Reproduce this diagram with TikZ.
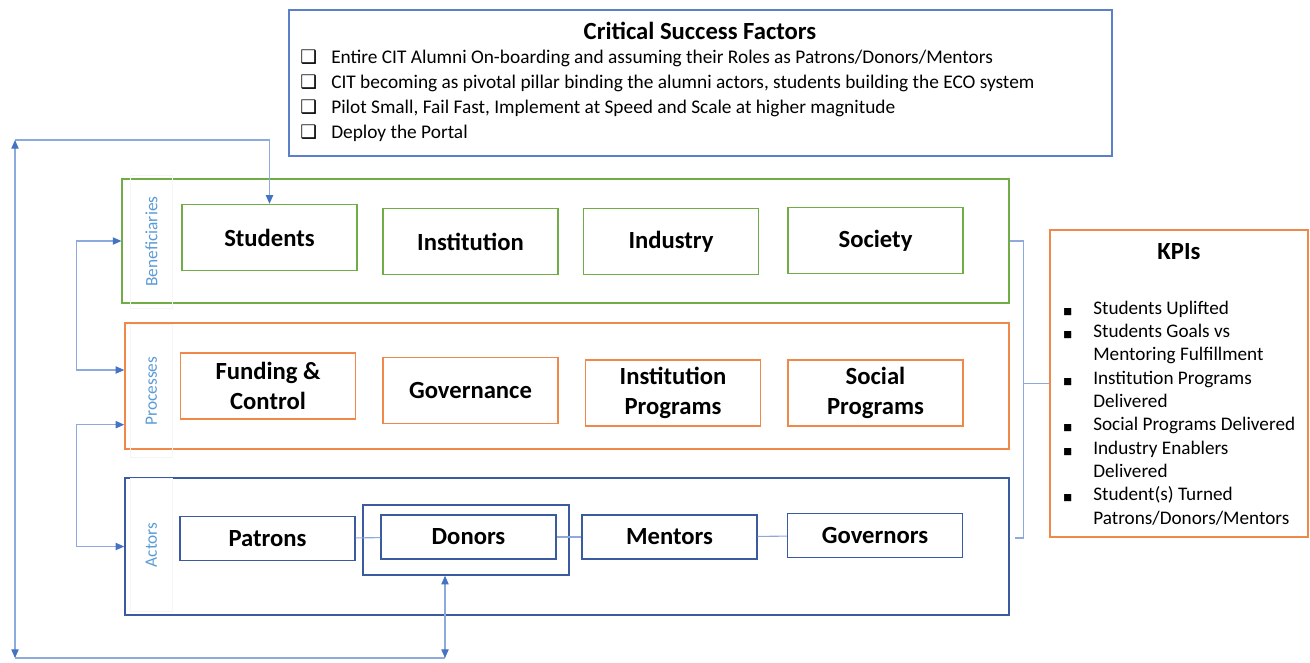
\documentclass[tikz,border=0pt]{standalone}
\usepackage{fontspec}
\setmainfont{Carlito}
\newfontfamily\symfont{DejaVu Sans}
\usetikzlibrary{positioning,arrows.meta}

\definecolor{grnline}{HTML}{70AD47}
\definecolor{orgline}{HTML}{F0884A}
\definecolor{actline}{HTML}{3A5C9E}
\definecolor{csfline}{HTML}{5B80C8}
\definecolor{conncol}{HTML}{4472C4}
\definecolor{connlight}{HTML}{8EA9DB}
\definecolor{lblcol}{HTML}{5B9BD5}

\newcommand{\itemfont}{\fontsize{18.5}{22}\selectfont\bfseries}
\newcommand{\titlefont}{\fontsize{18.5}{22}\selectfont\bfseries}
\newcommand{\csffont}{\fontsize{14.5}{18.75}\selectfont}
\newcommand{\kpifont}{\fontsize{14.4}{17.5}\selectfont}
\newcommand{\lblfont}{\fontsize{13}{15}\selectfont}
\newcommand{\csfchk}{\makebox[23.25pt][l]{\symfont\bfseries\fontsize{14}{14}\selectfont ❑}}
\newcommand{\kpibul}{\makebox[22.5pt][l]{\symfont\fontsize{7}{7}\selectfont ■}}
\newcommand{\kpiind}{\hspace*{22.5pt}}

\begin{document}
\begin{tikzpicture}[x=0.75pt,y=-0.75pt,
  every node/.style={inner sep=0pt},
  grpbox/.style={draw, line width=1.1pt},
  itembox/.style={draw, line width=1.1pt, minimum width=131pt, minimum height=49.5pt, align=center, font=\itemfont},
  actbox/.style={itembox, draw=actline, minimum height=33pt},
  sidelbl/.style={rotate=90, font=\lblfont, text=lblcol, draw=black!4, minimum width=100pt, minimum height=31.5pt},
  conn/.style={draw=connlight, line width=0.8pt, >={Triangle[length=6.5pt,width=5.5pt,color=conncol]}},
  link/.style={draw=connlight, line width=0.8pt}]
  \useasboundingbox (0,0) rectangle (1310,662);

  % critical success factors
  \node[draw=csfline, line width=1.1pt, minimum width=617pt, minimum height=109.5pt] (csf) at (700.5,83) {};
  \node[font=\titlefont] (csftitle) at (700,31) {Critical Success Factors};
  \node[anchor=west, align=left, font=\csffont] (csflist) at (300,95.5) {%
    \csfchk Entire CIT Alumni On-boarding and assuming their Roles as Patrons/Donors/Mentors\\
    \csfchk CIT becoming as pivotal pillar binding the alumni actors, students building the ECO system\\
    \csfchk Pilot Small, Fail Fast, Implement at Speed and Scale at higher magnitude\\
    \csfchk Deploy the Portal};

  % group boxes
  \node[grpbox, draw=grnline, minimum width=665pt, minimum height=93pt] (benef) at (565.5,241) {};
  \node[grpbox, draw=orgline, minimum width=663pt, minimum height=94.5pt] (proc) at (567,386) {};
  \node[grpbox, draw=actline, minimum width=663pt, minimum height=103pt] (actors) at (567,546.5) {};

  % side labels
  \node[sidelbl] (benlbl) at (151.5,241.5) {Beneficiaries};
  \node[sidelbl] (proclbl) at (151.5,391) {Processes};
  \node[sidelbl] (actlbl) at (151.5,545) {Actors};

  % beneficiaries
  \node[itembox, draw=grnline] (students) at (269.5,237.5) {Students};
  \node[itembox, draw=grnline] (institution) at (470.5,241.5) {Institution};
  \node[itembox, draw=grnline] (industry) at (671,241.5) {Industry};
  \node[itembox, draw=grnline] (society) at (875.5,240.5) {Society};

  % processes
  \node[itembox, draw=orgline] (funding) at (268,386) {Funding \&\\Control};
  \node[itembox, draw=orgline] (governance) at (470.5,390.5) {Governance};
  \node[itembox, draw=orgline] (instprog) at (673,393) {Institution\\Programs};
  \node[itembox, draw=orgline] (socprog) at (875.5,393) {Social\\Programs};

  % actors
  \node[draw=actline, line width=1.1pt, minimum width=154.5pt, minimum height=52.5pt] (donorsgrp) at (466,540) {};
  \node[actbox] (patrons) at (267.5,538.5) {Patrons};
  \node[actbox] (donors) at (468.5,537) {Donors};
  \node[actbox] (mentors) at (669.5,537) {Mentors};
  \node[actbox] (governors) at (875,535.5) {Governors};
  \draw[link] (patrons) -- (donors);
  \draw[link] (donors) -- (mentors);
  \draw[link] (mentors) -- (governors);

  % KPIs
  \node[draw=orgline, line width=1.1pt, minimum width=193.5pt, minimum height=230pt] (kpi) at (1179,383.5) {};
  \node[font=\titlefont] (kpititle) at (1179,252) {KPIs};
  \node[anchor=west, align=left, font=\kpifont] (kpilist) at (1063,413) {%
    \kpibul Students Uplifted\\
    \kpibul Students Goals vs\\
    \kpiind Mentoring Fulfillment\\
    \kpibul Institution Programs\\
    \kpiind Delivered\\
    \kpibul Social Programs Delivered\\
    \kpibul Industry Enablers\\
    \kpiind Delivered\\
    \kpibul Student(s) Turned\\
    \kpiind Patrons/Donors/Mentors};

  % bracket to KPIs
  \draw[link] (benef.east) -- ++(14,0) coordinate (brtop) -- (brtop |- 0,538) -- ++(-9,0);
  \draw[link] (brtop |- kpi.west) -- (kpi.west);

  % feedback arrows
  \draw[conn,<->] (benef.west) -- ++(-45,0) |- ([yshift=12pt]proc.west);
  \draw[conn,<->] ([yshift=-29pt]proc.west) -- ++(-48,0) |- (actors.west);

  \coordinate (looptl) at (15,140);
  \coordinate (loopbl) at (15,658);
  \coordinate (loopbr) at (445,658);
  \draw[conn,->] (looptl) -| (students.north);
  \draw[conn,<->] (looptl) -- (loopbl);
  \draw[conn] (loopbl) -- (loopbr);
  \draw[conn,<->] (loopbr |- donorsgrp.south) -- (loopbr);
\end{tikzpicture}
\end{document}
